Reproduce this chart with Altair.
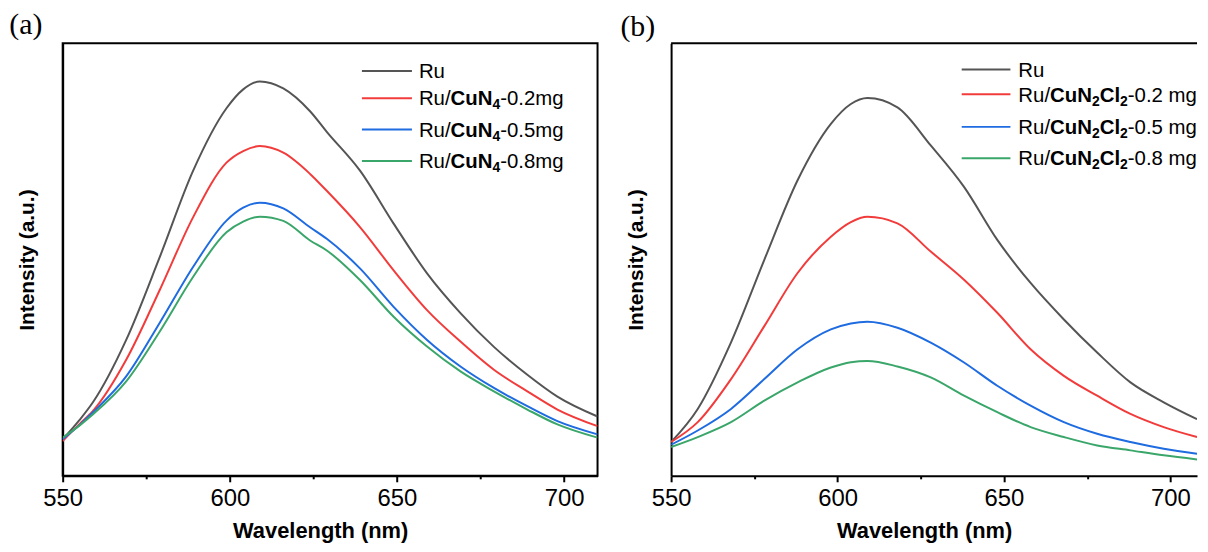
import altair as alt
import pandas as pd

# ---------------- data ----------------
series = ["Ru", "0.2mg", "0.5mg", "0.8mg"]
colors = ["#555555", "#f23c3c", "#1f6be0", "#3aa66a"]

# Panel (a): Ru / CuN4
wl_a = [550, 555, 559, 569, 579, 589, 599, 604, 609, 616, 624, 629, 639, 649, 659, 669, 679, 689, 698, 710]
ru_a = [367, 560, 737, 1367, 2197, 3067, 3697, 3887, 3967, 3897, 3667, 3460, 3067, 2537, 2037, 1637, 1297, 1017, 797, 597]
cu02_a = [350, 520, 650, 1167, 1867, 2600, 3150, 3267, 3317, 3250, 3037, 2867, 2500, 2067, 1667, 1350, 1067, 850, 667, 500]
cu05_a = [367, 510, 637, 1000, 1537, 2100, 2567, 2697, 2747, 2690, 2500, 2384, 2084, 1700, 1367, 1100, 884, 700, 550, 417]
cu08_a = [384, 505, 617, 950, 1450, 2000, 2450, 2557, 2607, 2565, 2367, 2267, 1967, 1600, 1300, 1050, 850, 667, 517, 384]

# Panel (b): Ru / CuN2Cl2
wl_b = [550, 558, 568, 578, 588, 598, 604, 609, 618, 628, 638, 648, 658, 668, 678, 688, 698, 708]
ru_b = [340, 673, 1343, 2173, 2973, 3540, 3740, 3800, 3706, 3323, 2906, 2373, 1940, 1573, 1240, 940, 740, 570]
cu02_b = [340, 540, 973, 1506, 2040, 2406, 2553, 2606, 2540, 2256, 1973, 1640, 1273, 1006, 806, 623, 490, 390]
cu05_b = [313, 456, 673, 973, 1273, 1473, 1533, 1550, 1490, 1340, 1140, 906, 706, 540, 423, 340, 273, 223]
cu08_b = [290, 390, 540, 756, 940, 1090, 1143, 1156, 1100, 990, 806, 640, 490, 390, 306, 256, 206, 165]

# legend label pieces: (text, style)  r = regular, b = bold, s = bold subscript
legend_a = [
    [("Ru", "r")],
    [("Ru/", "r"), ("CuN", "b"), ("4", "s"), ("-0.2mg", "r")],
    [("Ru/", "r"), ("CuN", "b"), ("4", "s"), ("-0.5mg", "r")],
    [("Ru/", "r"), ("CuN", "b"), ("4", "s"), ("-0.8mg", "r")],
]
legend_b = [
    [("Ru", "r")],
    [("Ru/", "r"), ("CuN", "b"), ("2", "s"), ("Cl", "b"), ("2", "s"), ("-0.2 mg", "r")],
    [("Ru/", "r"), ("CuN", "b"), ("2", "s"), ("Cl", "b"), ("2", "s"), ("-0.5 mg", "r")],
    [("Ru/", "r"), ("CuN", "b"), ("2", "s"), ("Cl", "b"), ("2", "s"), ("-0.8 mg", "r")],
]

# ---------------- layout / style ----------------
FONT = "Liberation Sans"
MAIN_FS = 20.5
SUB_FS = 14
W_A, W_B, H = 538, 529, 435
color_scale = alt.Scale(domain=series, range=colors)

REG = {"R": 722, "u": 556, "/": 278, "-": 333, "0": 556, ".": 278, "2": 556, "5": 556,
       "8": 556, "m": 833, "g": 556, " ": 278}
BOLD = {"C": 722, "u": 611, "N": 722, "l": 278, "2": 556, "4": 556}


def text_w(s, style):
    if style == "r":
        return sum(REG.get(c, 556) for c in s) * MAIN_FS / 1000
    if style == "b":
        return sum(BOLD.get(c, 611) for c in s) * MAIN_FS / 1000
    return sum(BOLD.get(c, 556) for c in s) * SUB_FS / 1000


def legend_frames(rows, line_x1, line_x2, text_x, row_y):
    lines, texts = [], []
    for name, pieces, y in zip(series, rows, row_y):
        lines.append({"series": name, "x1": line_x1, "x2": line_x2, "y": y})
        x = text_x
        for t, st in pieces:
            yy = y + 7.2 + (4 if st == "s" else 0)
            texts.append({"t": t, "style": st, "x": x, "y": yy})
            x += text_w(t, st)
    return pd.DataFrame(lines), pd.DataFrame(texts)


def panel(wl, values, rows, width, xmax, leg, label, label_xy, top_rule):
    df = pd.DataFrame(
        [{"wl": w, "I": v, "series": s} for s, vals in zip(series, values) for w, v in zip(wl, vals)]
    )
    x_scale = alt.Scale(domain=[550, xmax], nice=False, zero=False)
    x_axis = alt.Axis(
        orient="bottom",
        values=[550, 600, 650, 700],
        tickSize=6, tickWidth=2, tickColor="black",
        domainColor="black", domainWidth=2,
        labelFontSize=24, labelColor="black", labelPadding=5,
        labelFlush=False, labelOverlap=False,
        title="Wavelength (nm)", titleFontSize=22, titleFontWeight="bold",
        titleColor="black", titlePadding=10, titleX=width / 2 - 10, grid=False,
    )
    minor_axis = alt.Axis(
        orient="bottom", values=[575, 625, 675], tickSize=3, tickWidth=2,
        tickColor="black", labels=False, domain=False, grid=False, title=None,
    )
    y_axis = alt.Axis(
        labels=False, ticks=False, grid=False, domainColor="black", domainWidth=2,
        title="Intensity (a.u.)", titleFontSize=21, titleFontWeight="bold",
        titleColor="black", titlePadding=25,
    )
    lines = alt.Chart(df).mark_line(strokeWidth=2, interpolate="monotone", clip=True).encode(
        x=alt.X("wl:Q", scale=x_scale, axis=x_axis),
        y=alt.Y("I:Q", scale=alt.Scale(domain=[0, 4350], nice=False), axis=y_axis),
        color=alt.Color("series:N", scale=color_scale, legend=None),
        detail="series:N",
    )
    minor = alt.Chart(df).mark_point(opacity=0).encode(
        x=alt.X("wl:Q", axis=minor_axis),
    )
    ldf, tdf = legend_frames(rows, *leg)
    leg_lines = alt.Chart(ldf).mark_rule(strokeWidth=2).encode(
        x=alt.X("x1:Q", scale=None), x2="x2:Q",
        y=alt.Y("y:Q", scale=None),
        color=alt.Color("series:N", scale=color_scale, legend=None),
    )
    layers = [lines, minor, leg_lines]
    for st, fs, fw in [("r", MAIN_FS, "normal"), ("b", MAIN_FS, "bold"), ("s", SUB_FS, "bold")]:
        layers.append(
            alt.Chart(tdf[tdf["style"] == st]).mark_text(
                align="left", baseline="alphabetic", font=FONT, fontSize=fs,
                fontWeight=fw, color="black",
            ).encode(x=alt.X("x:Q", scale=None), y=alt.Y("y:Q", scale=None), text="t:N")
        )
    layers.append(
        alt.Chart(pd.DataFrame({"t": [label]})).mark_text(
            align="left", baseline="alphabetic", font="Liberation Serif",
            fontSize=30, color="black",
        ).encode(x=alt.value(label_xy[0]), y=alt.value(label_xy[1]), text="t:N")
    )
    if top_rule:
        layers.append(
            alt.Chart(pd.DataFrame({"a": [0]})).mark_rule(color="black", strokeWidth=2).encode(
                x=alt.value(0), x2=alt.value(width), y=alt.value(0)
            )
        )
    return alt.layer(*layers).resolve_axis(x="independent").properties(width=width, height=H)


pa = panel(
    wl_a, [ru_a, cu02_a, cu05_a, cu08_a], legend_a, W_A, 710,
    (301, 351.3, 358.3, [27.7, 55.1, 86.7, 118.4]), "(a)", (-53.7, -9), False,
).properties(view=alt.ViewBackground(stroke="black", strokeWidth=2))

pb = panel(
    wl_b, [ru_b, cu02_b, cu05_b, cu08_b], legend_b, W_B, 708,
    (292.3, 341.3, 349.3, [26.3, 51.3, 84, 115.6]), "(b)", (-51, -7.5), True,
).properties(view=alt.ViewBackground(stroke=None))

chart = alt.hconcat(pa, pb, spacing=19).properties(padding=0).configure(
    font=FONT
).configure_view(stroke=None)

chart.save("out.html", embed_options={"renderer": "svg", "actions": False})
